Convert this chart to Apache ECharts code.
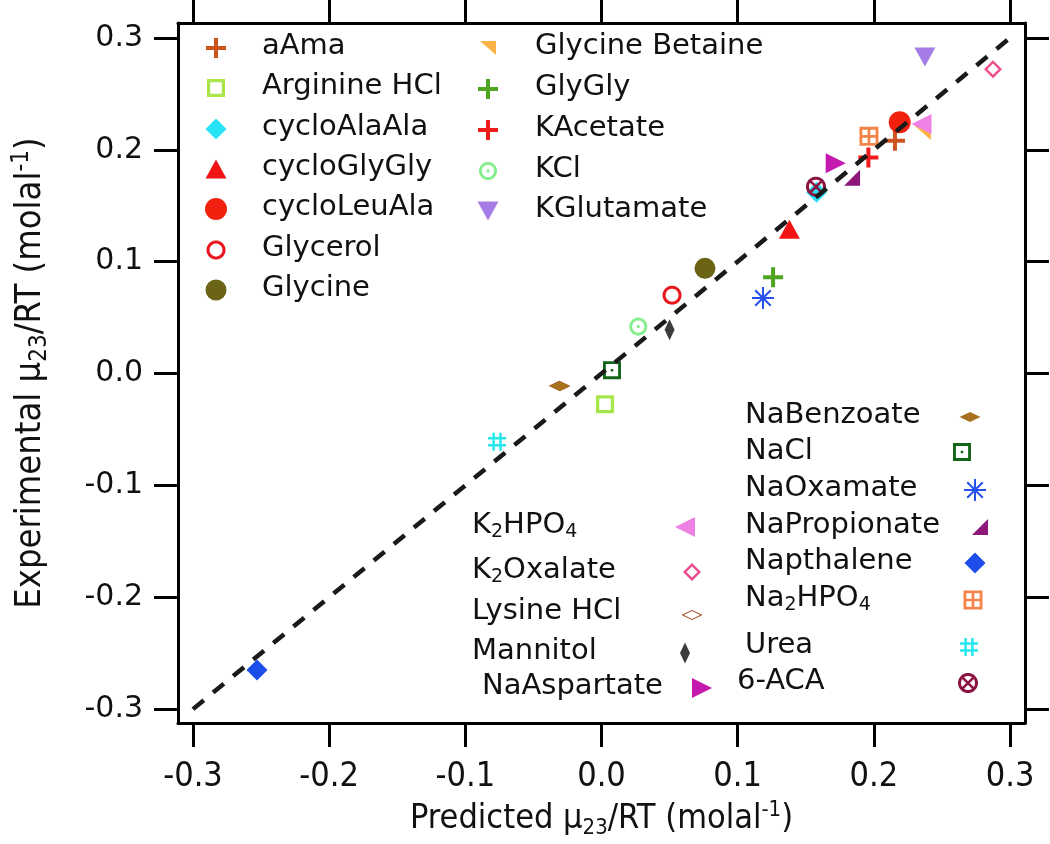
<!DOCTYPE html>
<html>
<head>
<meta charset="utf-8">
<script src="https://cdn.jsdelivr.net/npm/echarts@6/dist/echarts.min.js"></script>
<style>html,body{margin:0;padding:0;background:#fff}#c{width:1050px;height:844px}</style>
</head>
<body>
<div id="c"></div>
<script>
// ---------------- DATA ----------------
const names = ['aAma','Arginine HCl','cycloAlaAla','cycloGlyGly','cycloLeuAla','Glycerol','Glycine',
  'Glycine Betaine','GlyGly','KAcetate','KCl','KGlutamate','K2HPO4','K2Oxalate','Lysine HCl','Mannitol',
  'NaAspartate','NaBenzoate','NaCl','NaOxamate','NaPropionate','Napthalene','Na2HPO4','Urea','6-ACA'];
const predicted = [0.2155, 0.0026, 0.158, 0.138, 0.219, 0.0518, 0.076,
  0.236, 0.126, 0.196, 0.027, 0.2375, 0.235, 0.2875, -0.031, 0.050,
  0.172, -0.0305, 0.0077, 0.1186, 0.184, -0.253, 0.1964, -0.0767, 0.1575];
const experimental = [0.208, -0.0275, 0.162, 0.129, 0.2245, 0.070, 0.094,
  0.215, 0.086, 0.193, 0.042, 0.283, 0.223, 0.272, -0.011, 0.039,
  0.188, -0.0115, 0.003, 0.0675, 0.175, -0.265, 0.212, -0.061, 0.167];
const identityLine = [[-0.3, -0.3], [0.3, 0.3]];
const tickValues = [-0.3, -0.2, -0.1, 0.0, 0.1, 0.2, 0.3];
const xTitle = '{a|Predicted }{a|μ}{s|23}{a|/RT (molal}{p|-1}{a|)}';
const yTitle = '{a|Experimental }{a|μ}{s|23}{a|/RT (molal}{p|-1}{a|)}';
const displayLabels = {
  'K2HPO4': '{a|K}{s|2}{a|HPO}{s|4}',
  'K2Oxalate': '{a|K}{s|2}{a|Oxalate}',
  'Na2HPO4': '{a|Na}{s|2}{a|HPO}{s|4}'
};

// ---------------- SYMBOL SHAPES (style) ----------------
function P(pts){ return 'M' + pts.map(p => p[0].toFixed(2) + ',' + p[1].toFixed(2)).join(' L') + ' Z'; }
function rev(pts){ return pts.slice().reverse(); }
function circ(cx, cy, r, n){ n = n || 48; const a = []; for (let i = 0; i < n; i++){ const t = 2*Math.PI*i/n; a.push([cx + r*Math.cos(t), cy + r*Math.sin(t)]); } return a; }
function bar(cx, cy, len, w, ang){ const c = Math.cos(ang), s = Math.sin(ang), hl = len/2, hw = w/2;
  return [[-hl,-hw],[hl,-hw],[hl,hw],[-hl,hw]].map(([x,y]) => [cx + x*c - y*s, cy + x*s + y*c]); }
function sq(a, b){ return [[a,a],[b,a],[b,b],[a,b]]; }
function rect(x0, y0, x1, y1){ return [[x0,y0],[x1,y0],[x1,y1],[x0,y1]]; }
function dia(f){ const c = 50, r = 50*f; return [[c, c-r],[c+r, c],[c, c+r],[c-r, c]]; }
const path = s => 'path://' + s;
const SH = {
  plus: path(P(bar(50,50,100,20,0)) + ' ' + P(bar(50,50,100,20,Math.PI/2))),
  openSq: path(P(sq(0,100)) + ' ' + P(rev(sq(18,82)))),
  sqDot: path(P(sq(0,100)) + ' ' + P(rev(sq(16,84))) + ' ' + P(sq(43,57))),
  sqGrid: path(P(sq(0,100)) + ' ' + P(rev(rect(15,15,43,43))) + ' ' + P(rev(rect(57,15,85,43))) + ' ' + P(rev(rect(15,57,43,85))) + ' ' + P(rev(rect(57,57,85,85)))),
  diamond: path(P(dia(1))),
  openDia: path(P(dia(1)) + ' ' + P(rev(dia(0.62)))),
  openDiaThin: path(P(dia(1)) + ' ' + P(rev(dia(0.78)))),
  triUp: path(P([[50,0],[100,100],[0,100]])),
  triDown: path(P([[0,0],[100,0],[50,100]])),
  triLeft: path(P([[100,0],[100,100],[0,50]])),
  triRight: path(P([[0,0],[100,50],[0,100]])),
  triTR: path(P([[0,0],[100,0],[100,100]])),
  triBR: path(P([[100,0],[100,100],[0,100]])),
  ring: path(P(circ(50,50,50)) + ' ' + P(rev(circ(50,50,34)))),
  ringDot: path(P(circ(50,50,50)) + ' ' + P(rev(circ(50,50,34))) + ' ' + P(circ(50,50,9,24))),
  ringX: path(P(circ(50,50,50)) + ' ' + P(rev(circ(50,50,35))) + ' ' + P(bar(50,50,76,13,Math.PI/4)) + ' ' + P(bar(50,50,76,13,-Math.PI/4))),
  star: path([0,1,2,3].map(k => P(bar(50,50,100,9,k*Math.PI/4))).join(' ') + ' ' + P(circ(50,50,9,24))),
  hash: path(P(rect(24,0,38,100)) + ' ' + P(rect(62,0,76,100)) + ' ' + P(rect(0,24,100,38)) + ' ' + P(rect(0,62,100,76)))
};
// [symbol, size, color]
const styleOf = {
  'aAma': [SH.plus, [20,20], '#CC541E'],
  'Arginine HCl': [SH.openSq, [18,18], '#A6E64B'],
  'cycloAlaAla': [SH.diamond, [21,21], '#27E3F5'],
  'cycloGlyGly': [SH.triUp, [21,19], '#F21414'],
  'cycloLeuAla': ['circle', [22,22], '#F4200F'],
  'Glycerol': [SH.ring, [19,19], '#E8161E'],
  'Glycine': ['circle', [21,21], '#6B6414'],
  'Glycine Betaine': [SH.triTR, [16,14], '#FBB347'],
  'GlyGly': [SH.plus, [20,20], '#4FA521'],
  'KAcetate': [SH.plus, [20,20], '#F21B1B'],
  'KCl': [SH.ringDot, [18,18], '#86EE8C'],
  'KGlutamate': [SH.triDown, [21,19], '#A57BE6'],
  'K2HPO4': [SH.triLeft, [20,20], '#EE82E4'],
  'K2Oxalate': [SH.openDia, [18,18], '#EE4C8C'],
  'Lysine HCl': [SH.openDiaThin, [21,10], '#9B4A2A'],
  'Mannitol': [SH.diamond, [10,21], '#3C3C3C'],
  'NaAspartate': [SH.triRight, [20,20], '#C41AB0'],
  'NaBenzoate': [SH.diamond, [21,10], '#A6701C'],
  'NaCl': [SH.sqDot, [18,18], '#12661A'],
  'NaOxamate': [SH.star, [22,22], '#2450EE'],
  'NaPropionate': [SH.triBR, [16,16], '#8E177C'],
  'Napthalene': [SH.diamond, [21,21], '#1E4EEA'],
  'Na2HPO4': [SH.sqGrid, [19,19], '#F5844A'],
  'Urea': [SH.hash, [18,18], '#26E8EE'],
  '6-ACA': [SH.ringX, [20,20], '#8C1442']
};
// legend placement: icon centre (ix, iy), text left / centre (tx, ty)
const legendPos = {
  'aAma': [216,48,262,48], 'Arginine HCl': [216,88,262,88], 'cycloAlaAla': [216,129,262,129],
  'cycloGlyGly': [216,169,262,169], 'cycloLeuAla': [216,209,262,209], 'Glycerol': [216,250,262,250],
  'Glycine': [216,290,262,290],
  'Glycine Betaine': [488,48,535,48], 'GlyGly': [488,89,535,89], 'KAcetate': [488,130,535,130],
  'KCl': [488,171,535,171], 'KGlutamate': [488,211,535,211],
  'K2HPO4': [685,527,472,527], 'K2Oxalate': [692,572,472,572], 'Lysine HCl': [692,615,472,613],
  'Mannitol': [685,653,472,653], 'NaAspartate': [702,688,482,688],
  'NaBenzoate': [970,417,745,417], 'NaCl': [962,452,745,453], 'NaOxamate': [975,490,745,490],
  'NaPropionate': [980,527,745,527], 'Napthalene': [975,563,745,563], 'Na2HPO4': [973,600,745,600],
  'Urea': [969,647,745,647], '6-ACA': [968,683,737,683]
};

const NARROW = "'Liberation Sans Narrow','DejaVu Sans Condensed','Liberation Sans',sans-serif";
const WIDE = "'DejaVu Sans','Liberation Sans',sans-serif";

const series = names.map((n, i) => {
  const s = styleOf[n];
  return {
    name: n, type: 'scatter', xAxisIndex: 0, yAxisIndex: 0,
    symbol: s[0], symbolSize: s[1], symbolKeepAspect: false,
    itemStyle: { color: s[2], opacity: 1, borderWidth: 0 },
    data: [[predicted[i], experimental[i]]], z: 2, silent: true
  };
});
series.push({
  name: 'identity', type: 'line', data: identityLine, symbol: 'none', silent: true, z: 5,
  lineStyle: { color: '#1a1a1a', width: 4.5, type: [14, 12], cap: 'butt' }
});

const legendRich = {
  a: { fontFamily: WIDE, fontSize: 29, lineHeight: 32, color: '#111' },
  s: { fontFamily: WIDE, fontSize: 19, lineHeight: 12, verticalAlign: 'bottom', color: '#111' }
};
const legends = [];
names.forEach(n => {
  const s = styleOf[n], p = legendPos[n];
  legends.push({
    data: [n], left: p[0] - s[1][0]/2, top: p[1] - s[1][1]/2, padding: 0,
    itemWidth: s[1][0], itemHeight: s[1][1], symbolKeepAspect: false, selectedMode: false,
    formatter: () => '', textStyle: { fontSize: 1 }
  });
  legends.push({
    data: [n], left: p[2] - 6, top: p[3] - 16, padding: 0, icon: 'rect',
    itemWidth: 1, itemHeight: 1, itemStyle: { opacity: 0 }, selectedMode: false,
    formatter: name => displayLabels[name] || ('{a|' + name + '}'),
    textStyle: { fontFamily: WIDE, fontSize: 29, color: '#111', rich: legendRich }
  });
});

const axisCommon = {
  type: 'value', min: -0.311, max: 0.311,
  axisLine: { show: true, onZero: false, lineStyle: { color: '#000', width: 3 } },
  axisTick: { show: true, inside: false, length: 24, lineStyle: { color: '#000', width: 3 }, customValues: tickValues },
  splitLine: { show: false }
};
function nameRich(fs){
  return {
    a: { fontFamily: NARROW, fontSize: fs, lineHeight: fs + 6, color: '#111' },
    s: { fontFamily: NARROW, fontSize: Math.round(fs*0.66), lineHeight: 12, verticalAlign: 'bottom', color: '#111' },
    p: { fontFamily: NARROW, fontSize: Math.round(fs*0.66), lineHeight: 20, verticalAlign: 'top', color: '#111' }
  };
}
const option = {
  animation: false,
  backgroundColor: '#fff',
  grid: { left: 178, right: 25, top: 23, bottom: 116, containLabel: false },
  xAxis: [
    Object.assign({}, axisCommon, {
      position: 'bottom',
      axisLabel: { show: true, customValues: tickValues, formatter: v => v.toFixed(1), margin: 37,
        fontFamily: NARROW, fontSize: 34, color: '#111' },
      name: xTitle, nameLocation: 'middle', nameGap: 62,
      nameTextStyle: { rich: nameRich(34) }
    }),
    Object.assign({}, axisCommon, { position: 'top', axisLabel: { show: false } })
  ],
  yAxis: [
    Object.assign({}, axisCommon, {
      min: -0.3125, max: 0.3133, position: 'left',
      axisLabel: { show: true, customValues: tickValues, formatter: v => v.toFixed(1), margin: 35,
        fontFamily: WIDE, fontSize: 30, color: '#111' },
      name: yTitle, nameLocation: 'middle', nameGap: 126,
      nameTextStyle: { rich: nameRich(36) }
    }),
    Object.assign({}, axisCommon, { min: -0.3125, max: 0.3133, position: 'right', axisLabel: { show: false } })
  ],
  legend: legends,
  series: series
};
const chart = echarts.init(document.getElementById('c'), null, { renderer: 'canvas' });
chart.setOption(option);
</script>
</body>
</html>
